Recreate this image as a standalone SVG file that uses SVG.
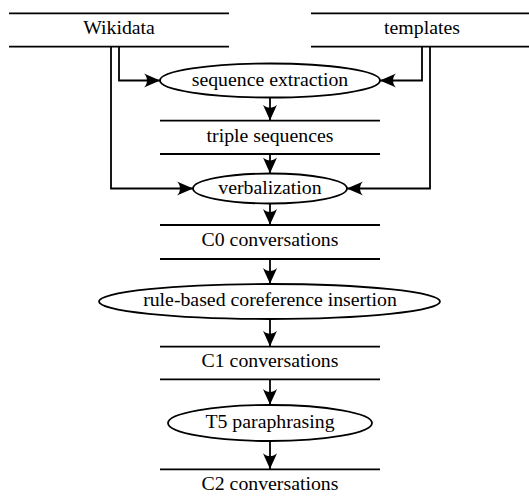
<svg xmlns="http://www.w3.org/2000/svg" width="529" height="498" viewBox="0 0 529 498">
<style>
  .ln { stroke: #000; stroke-width: 1.8; fill: none; }
  .el { stroke: #000; stroke-width: 1.8; fill: #fff; }
  .tx { font-family: 'Liberation Serif', 'Times New Roman', 'DejaVu Serif', serif; font-size: 19.8px; fill: #000; text-anchor: middle; }
  .ed { stroke: #000; stroke-width: 1.8; fill: none; marker-end: url(#ah); }
</style>
<defs>
  <marker id="ah" viewBox="-16 -7.5 16 15" refX="0" refY="0" markerWidth="16" markerHeight="15" orient="auto" markerUnits="userSpaceOnUse">
    <path d="M0,0 C-5,-2 -11,-5 -16,-7 C-12,-3 -12,3 -16,7 C-11,5 -5,2 0,0 Z" fill="#000"/>
  </marker>
</defs>
<rect width="529" height="498" fill="#fff"/>

<g id="connectors">
  <path class="ed" d="M119,46.7 V80.5 H160"/>
  <path class="ed" d="M111,46.7 V188.5 H193"/>
  <path class="ed" d="M422,46.7 V80.5 H380"/>
  <path class="ed" d="M430,46.7 V188.5 H347"/>
  <path class="ed" d="M270,97.5 V120.7"/>
  <path class="ed" d="M270,154 V173.5"/>
  <path class="ed" d="M270,203.5 V225"/>
  <path class="ed" d="M270,259 V284"/>
  <path class="ed" d="M270,319 V346.7"/>
  <path class="ed" d="M270,379.3 V405"/>
  <path class="ed" d="M270,441 V469.3"/>
</g>

<g id="wikidata">
  <line class="ln" x1="9" y1="13.3" x2="229" y2="13.3"/>
  <line class="ln" x1="9" y1="46.7" x2="229" y2="46.7"/>
  <text class="tx" x="119" y="34.3" font-family="Liberation Serif, serif">Wikidata</text>
</g>
<g id="templates">
  <line class="ln" x1="311" y1="13.3" x2="531" y2="13.3"/>
  <line class="ln" x1="311" y1="46.7" x2="531" y2="46.7"/>
  <text class="tx" x="422" y="34.3">templates</text>
</g>
<g id="sequence-extraction">
  <ellipse class="el" cx="270" cy="80.5" rx="110" ry="17"/>
  <text class="tx" x="270" y="85.5">sequence extraction</text>
</g>
<g id="triple-sequences">
  <line class="ln" x1="160" y1="120.7" x2="380" y2="120.7"/>
  <line class="ln" x1="160" y1="154" x2="380" y2="154"/>
  <text class="tx" x="270" y="141.5">triple sequences</text>
</g>
<g id="verbalization">
  <ellipse class="el" cx="270" cy="188.5" rx="77" ry="15"/>
  <text class="tx" x="270" y="193.5">verbalization</text>
</g>
<g id="c0">
  <line class="ln" x1="160" y1="225" x2="380" y2="225"/>
  <line class="ln" x1="160" y1="259" x2="380" y2="259"/>
  <text class="tx" x="270" y="246.3">C0 conversations</text>
</g>
<g id="coreference">
  <ellipse class="el" cx="269.5" cy="301.5" rx="170.5" ry="17.5"/>
  <text class="tx" x="270" y="306.3">rule-based coreference insertion</text>
</g>
<g id="c1">
  <line class="ln" x1="160" y1="346.7" x2="380" y2="346.7"/>
  <line class="ln" x1="160" y1="379.3" x2="380" y2="379.3"/>
  <text class="tx" x="270" y="367">C1 conversations</text>
</g>
<g id="t5">
  <ellipse class="el" cx="270" cy="423" rx="102" ry="18"/>
  <text class="tx" x="270" y="428">T5 paraphrasing</text>
</g>
<g id="c2">
  <line class="ln" x1="160" y1="469.3" x2="380" y2="469.3"/>
  <text class="tx" x="270" y="490.3">C2 conversations</text>
</g>
</svg>
